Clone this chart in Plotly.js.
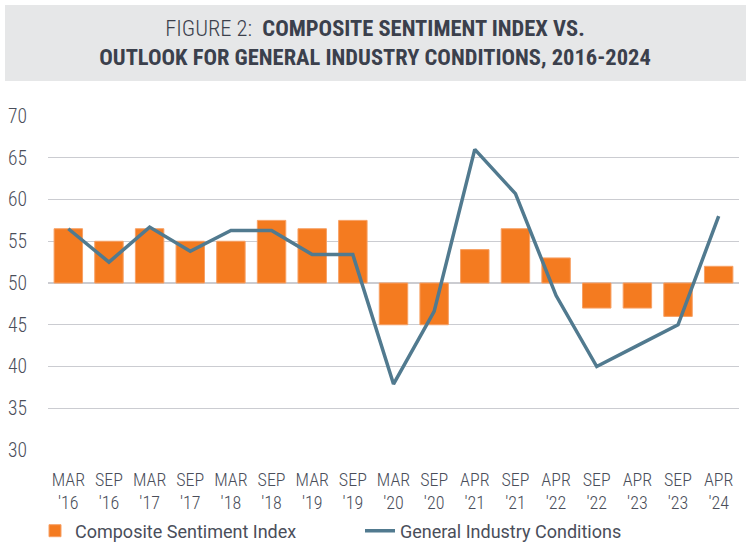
<!DOCTYPE html>
<html><head><meta charset="utf-8">
<script src="https://cdn.plot.ly/plotly-3.0.1.min.js"></script>
<style>html,body{margin:0;padding:0;background:#fff}#chart{width:750px;height:546px}</style>
</head><body><div id="chart"></div>
<script>
const categories = ["MAR '16","SEP '16","MAR '17","SEP '17","MAR '18","SEP '18","MAR '19","SEP '19","MAR '20","SEP '20","APR '21","SEP '21","APR '22","SEP '22","APR '23","SEP '23","APR '24"];
const tickLabels = ["MAR<br>'16","SEP<br>'16","MAR<br>'17","SEP<br>'17","MAR<br>'18","SEP<br>'18","MAR<br>'19","SEP<br>'19","MAR<br>'20","SEP<br>'20","APR<br>'21","SEP<br>'21","APR<br>'22","SEP<br>'22","APR<br>'23","SEP<br>'23","APR<br>'24"];
const compositeSentiment = [56.5,55,56.5,55,55,57.5,56.5,57.5,45,45,54,56.5,53,47,47,46,52];
const industryConditions = [56.5,52.5,56.7,53.8,56.3,56.3,53.4,53.4,37.9,46.6,66,60.7,48.5,40,42.5,45,58];
const baseline = 50;

const COND = '"Roboto Condensed","DejaVu Sans Condensed",sans-serif';
const SANS = 'Roboto,"Noto Sans",sans-serif';
const TXT = '#4a4e5a';

const traces = [
  {type:'bar', name:'Composite Sentiment Index', x:categories,
   y:compositeSentiment.map(v=>v-baseline), base:baseline,
   marker:{color:'#f47b20', line:{color:'#f7a064', width:1}}},
  {type:'scatter', mode:'lines', name:'General Industry Conditions', x:categories,
   y:industryConditions, line:{color:'#517a8f', width:3.5}}
];

const layout = {
  width:750, height:546,
  margin:{l:48, r:11, t:116, b:96},
  paper_bgcolor:'#fff', plot_bgcolor:'#fff',
  bargap:0.3,
  showlegend:true,
  font:{family:COND, color:TXT},
  title:{text:'<span style="font-weight:300">FIGURE 2: </span> <b>COMPOSITE SENTIMENT INDEX VS.</b><br><b>OUTLOOK FOR GENERAL INDUSTRY CONDITIONS, 2016-2024</b>',
         font:{family:COND, size:22.5, color:'#3b404c'}, x:0.5, xanchor:'center', xref:'container',
         y:1-36/546, yanchor:'middle', yref:'container'},
  xaxis:{type:'category', tickvals:categories, ticktext:tickLabels, showgrid:false, zeroline:false,
         showline:false, ticks:'', tickfont:{family:COND, size:18, color:TXT, weight:300},
         ticklabelstandoff:17, automargin:false, fixedrange:true},
  yaxis:{range:[30,70], dtick:5, tick0:30, showgrid:true, gridcolor:'#cbccd1', gridwidth:1.2,
         zeroline:false, showline:false, ticks:'', tickfont:{family:COND, size:19.5, color:TXT, weight:300},
         ticklabelstandoff:20, automargin:false, fixedrange:true},
  legend:{orientation:'h', xref:'container', x:35/750, xanchor:'left', yref:'container', y:15/546, yanchor:'middle',
          font:{family:SANS, size:18, color:TXT}, entrywidth:280, itemwidth:30, traceorder:'normal', bgcolor:'rgba(0,0,0,0)'},
  shapes:[{type:'rect', xref:'paper', yref:'paper',
           x0:(5-48)/691, x1:(746-48)/691, y0:(450-81)/334, y1:(450-5)/334,
           fillcolor:'#e6e7e8', line:{width:0}, layer:'below'}]
};

Plotly.newPlot('chart', traces, layout, {displayModeBar:false, staticPlot:true});
</script></body></html>
